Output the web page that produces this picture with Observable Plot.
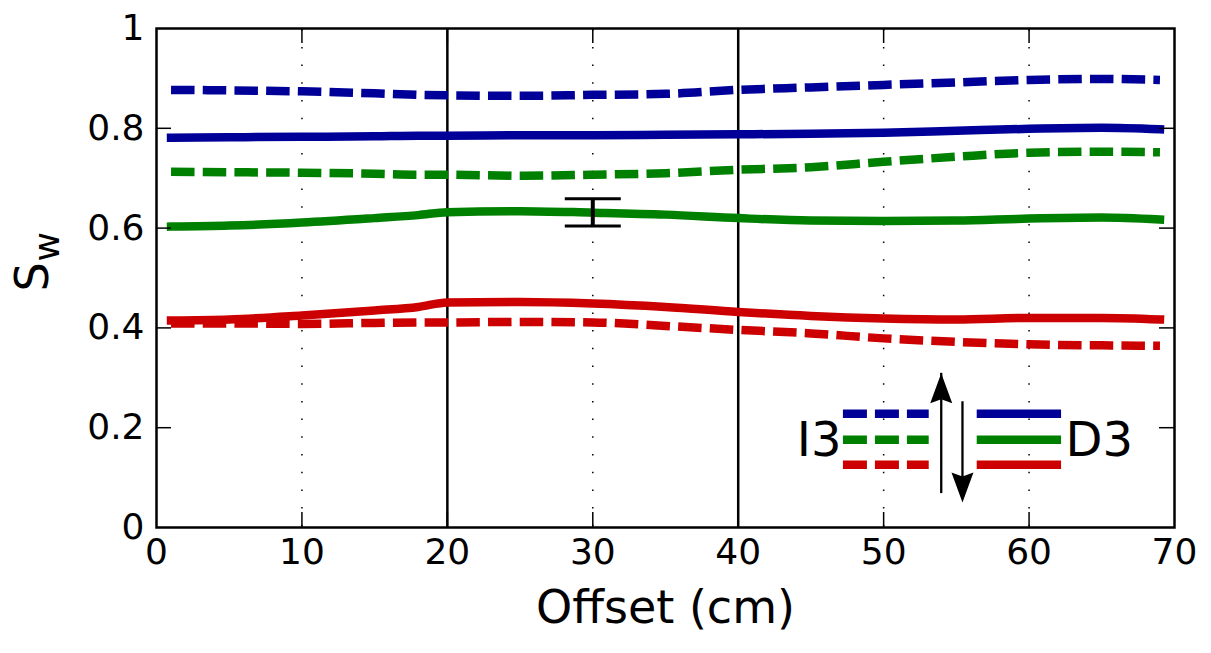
<!DOCTYPE html>
<html><head><meta charset="utf-8">
<script src="https://cdn.jsdelivr.net/npm/d3@7"></script>
<script src="https://cdn.jsdelivr.net/npm/@observablehq/plot@0.6"></script>
<style>body{margin:0;background:#fff;} svg{display:block}</style>
</head><body><div id="chart"></div>
<script>
// ---- data ----
const offsets = [1, 5, 10, 15, 18, 20, 25, 30, 35, 40, 45, 50, 55, 60, 65, 69];
const i3Blue  = [0.877, 0.876, 0.874, 0.870, 0.867, 0.866, 0.865, 0.867, 0.869, 0.877, 0.882, 0.887, 0.892, 0.897, 0.899, 0.897];
const d3Blue  = [0.781, 0.782, 0.783, 0.784, 0.785, 0.785, 0.786, 0.786, 0.787, 0.788, 0.789, 0.791, 0.795, 0.799, 0.801, 0.798];
const i3Green = [0.713, 0.712, 0.711, 0.709, 0.707, 0.707, 0.705, 0.707, 0.710, 0.717, 0.722, 0.733, 0.743, 0.751, 0.753, 0.752];
const d3Green = [0.603, 0.605, 0.611, 0.620, 0.626, 0.632, 0.634, 0.631, 0.627, 0.620, 0.615, 0.614, 0.615, 0.619, 0.621, 0.617];
const i3Red   = [0.409, 0.409, 0.408, 0.410, 0.411, 0.411, 0.412, 0.411, 0.404, 0.396, 0.389, 0.379, 0.372, 0.367, 0.365, 0.364];
const d3Red   = [0.415, 0.417, 0.425, 0.435, 0.442, 0.451, 0.452, 0.449, 0.442, 0.432, 0.424, 0.419, 0.417, 0.420, 0.420, 0.417];

const seriesNames = ["I3 blue", "D3 blue", "I3 green", "D3 green", "I3 red", "D3 red"];
const seriesValues = [i3Blue, d3Blue, i3Green, d3Green, i3Red, d3Red];
const seriesColors = ["#000099", "#000099", "#008000", "#008000", "#cc0000", "#cc0000"];
const seriesDashed = [true, false, true, false, true, false];

const errorBars = [{x: 30, lo: 0.604, hi: 0.659}];

const xTicks = [0, 10, 20, 30, 40, 50, 60, 70];
const xTickLabels = ["0", "10", "20", "30", "40", "50", "60", "70"];
const yTicks = [0, 0.2, 0.4, 0.6, 0.8, 1];
const yTickLabels = ["0", "0.2", "0.4", "0.6", "0.8", "1"];
const gridDotted = [10, 30, 50, 60];
const gridSolid = [20, 40];

// legend (annotation inside the plot, data coordinates)
const legendRowY = [0.228, 0.176, 0.126];
const legendColors = ["#000099", "#008000", "#cc0000"];
const legendDashX = [47.2, 53.1];
const legendSolidX = [56.4, 62.2];
const legendLeftLabel = [{text: "I3", x: 47.1, y: 0.174}];
const legendRightLabel = [{text: "D3", x: 62.5, y: 0.174}];
const arrowsUp = [{x: 53.96, from: 0.108, to: 0.309}];
const arrowsDown = [{x: 55.42, from: 0.252, to: 0.050}];

// ---- layout ----
const W = 1211, H = 653;
const mL = 156, mR = 37, mT = 28, mB = 126;
const plotW = W - mL - mR, plotH = H - mT - mB;
const FONT = "DejaVu Sans";
const LW = 8.5;

const rows = seriesNames.map((name, s) => offsets.map((x, i) => ({x, y: seriesValues[s][i], series: name})));

const upHead = {draw(c) { c.moveTo(0, 0); c.lineTo(11, 30); c.lineTo(0, 26); c.lineTo(-11, 30); c.closePath(); }};
const downHead = {draw(c) { c.moveTo(0, 0); c.lineTo(11, -30); c.lineTo(0, -26); c.lineTo(-11, -30); c.closePath(); }};
const capSymbol = {draw(c) { c.moveTo(-28, 0); c.lineTo(28, 0); }};

const marks = [
  Plot.ruleX(gridDotted, {x: d => d, stroke: "black", strokeWidth: 1.5, strokeDasharray: "1.5,16.2", strokeDashoffset: -1.2}),
  Plot.ruleX(gridSolid, {x: d => d, stroke: "black", strokeWidth: 2.5}),
];
rows.forEach((data, s) => {
  marks.push(Plot.line(data, {x: "x", y: "y", stroke: seriesColors[s], strokeWidth: LW,
    strokeDasharray: seriesDashed[s] ? "23.5,8.2" : null,
    strokeLinecap: seriesDashed[s] ? "butt" : "square", curve: "monotone-x"}));
});
// error bar
marks.push(
  Plot.ruleX(errorBars, {x: "x", y1: "lo", y2: "hi", stroke: "black", strokeWidth: 4}),
  Plot.dot(errorBars, {x: "x", y: "lo", symbol: capSymbol, stroke: "black", strokeWidth: 3, fill: "none"}),
  Plot.dot(errorBars, {x: "x", y: "hi", symbol: capSymbol, stroke: "black", strokeWidth: 3, fill: "none"})
);
// legend
legendRowY.forEach((y, i) => {
  marks.push(
    Plot.line(legendDashX.map(x => ({x, y})), {x: "x", y: "y", stroke: legendColors[i], strokeWidth: LW, strokeDasharray: "24,8", strokeLinecap: "butt"}),
    Plot.line(legendSolidX.map(x => ({x, y})), {x: "x", y: "y", stroke: legendColors[i], strokeWidth: LW, strokeLinecap: "butt"})
  );
});
marks.push(
  Plot.text(legendLeftLabel, {x: "x", y: "y", text: "text", textAnchor: "end", fontSize: 48, fill: "black"}),
  Plot.text(legendRightLabel, {x: "x", y: "y", text: "text", textAnchor: "start", fontSize: 48, fill: "black"}),
  Plot.ruleX(arrowsUp, {x: "x", y1: "from", y2: "to", stroke: "black", strokeWidth: 2.3, insetTop: 20}),
  Plot.ruleX(arrowsDown, {x: "x", y1: "from", y2: "to", stroke: "black", strokeWidth: 2.3, insetBottom: 20}),
  Plot.dot(arrowsUp, {x: "x", y: "to", symbol: upHead, fill: "black", stroke: "none"}),
  Plot.dot(arrowsDown, {x: "x", y: "to", symbol: downHead, fill: "black", stroke: "none"})
);
// frame & ticks (inward)
const innerY = yTicks.slice(1, -1), innerX = xTicks.slice(1, -1);
marks.push(
  Plot.frame({stroke: "black", strokeWidth: 2.5}),
  Plot.tickY(innerY, {y: d => d, stroke: "black", strokeWidth: 1.5, insetRight: plotW - 15}),
  Plot.tickY(innerY, {y: d => d, stroke: "black", strokeWidth: 1.5, insetLeft: plotW - 15}),
  Plot.tickX(innerX, {x: d => d, stroke: "black", strokeWidth: 1.5, insetTop: plotH - 15}),
  Plot.tickX(innerX, {x: d => d, stroke: "black", strokeWidth: 1.5, insetBottom: plotH - 15}),
  // tick labels
  Plot.text(yTicks, {y: d => d, text: (d, i) => yTickLabels[i], frameAnchor: "left", textAnchor: "end", dx: -12, fontSize: 36, fill: "black"}),
  Plot.text(xTicks, {x: d => d, text: (d, i) => xTickLabels[i], frameAnchor: "bottom", dy: 36, fontSize: 36, fill: "black"}),
  // axis titles
  Plot.text(["Offset (cm)"], {text: d => d, frameAnchor: "bottom", dy: 95, fontSize: 46, fill: "black"}),
  Plot.text(["S"], {text: d => d, frameAnchor: "left", rotate: -90, dx: -123.7, dy: 13.5, fontSize: 46, fill: "black"}),
  Plot.text(["w"], {text: d => d, frameAnchor: "left", rotate: -90, dx: -109.5, dy: -16.5, fontSize: 36, fill: "black"})
);

const chart = Plot.plot({
  width: W, height: H,
  marginLeft: mL, marginRight: mR, marginTop: mT, marginBottom: mB,
  x: {domain: [0, 70], axis: null},
  y: {domain: [0, 1], axis: null},
  style: {fontFamily: FONT, background: "white", overflow: "visible"},
  marks
});
document.getElementById("chart").appendChild(chart);
</script></body></html>
